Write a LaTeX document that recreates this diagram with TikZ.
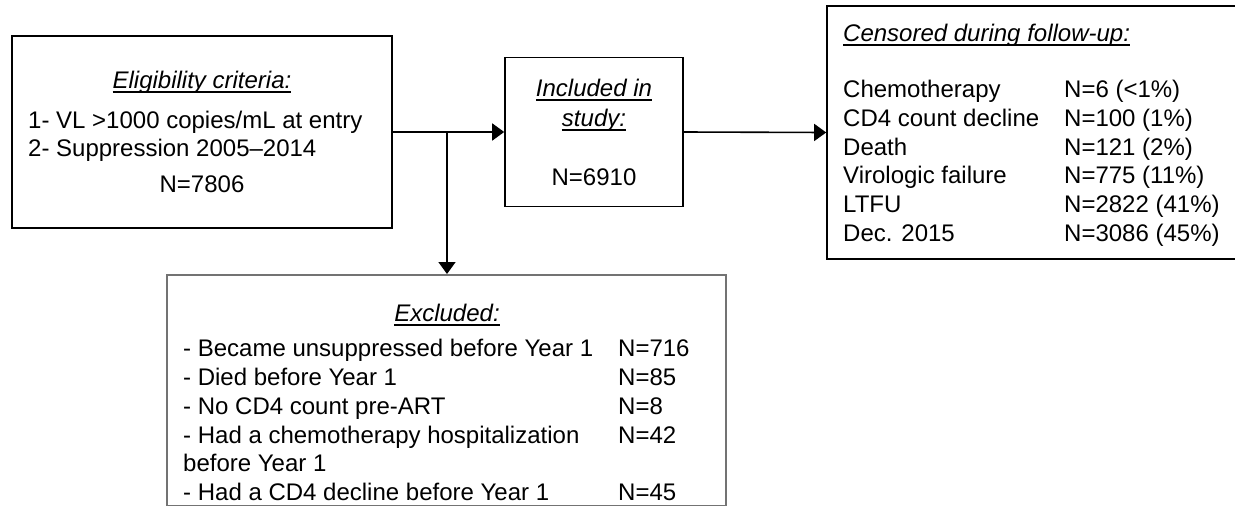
\documentclass[tikz,border=0pt]{standalone}
\usepackage{fontspec}
\setmainfont{Liberation Sans}
\usetikzlibrary{arrows.meta}
\newcommand{\myul}[1]{\setbox0\hbox{#1}\rlap{\rule[-4pt]{\wd0}{1.4pt}}\box0}
\tikzset{
  box/.style={draw, line width=1.6pt, inner sep=0pt, fill=none},
  ebox/.style={draw=black!55, line width=1.5pt, inner sep=0pt},
  arr/.style={line width=1.6pt, -{Triangle[length=12pt,width=17pt]}},
  big/.style={inner sep=0pt, text height=17.2pt, text depth=0pt, font=\fontsize{24}{28}\selectfont},
}
\begin{document}
\begin{tikzpicture}[x=1pt,y=-1pt]
\clip (0,0) rectangle (1235,506);
\fill[white] (0,0) rectangle (1235,506);
% boxes
\node[box, minimum width=380pt, minimum height=192pt] (b1) at (202,132) {};
\node[box, minimum width=178pt, minimum height=149pt] (b2) at (594,132) {};
\node[box, minimum width=418pt, minimum height=253pt] (b3) at (1036,132.5) {};
\node[ebox, minimum width=559pt, minimum height=231pt, anchor=north] (b4) at (446.5,274) {};
% box 1 text
\node[big] (t1) at (202,80) {\itshape\myul{Eligibility criteria:}};
\node[big, anchor=west] (t2) at (28,120) {1- VL >1000 copies/mL at entry};
\node[big, anchor=west] (t3) at (28,148) {2- Suppression 2005--2014};
\node[big] (t4) at (202,184) {N=7806};
% box 2 text
\node[big] (u1) at (594,88) {\itshape\myul{Included in}};
\node[big] (u2) at (594,118) {\itshape\myul{study:}};
\node[big] (u3) at (594,177) {N=6910};
% censored text
\node[big, anchor=west] (c0) at (843,33) {\itshape\myul{Censored during follow-up:}};
\foreach \i/\a/\b in {0/Chemotherapy/{N=6 (<1\%)},1/CD4 count decline/{N=100 (1\%)},2/Death/{N=121 (2\%)},3/Virologic failure/{N=775 (11\%)},4/LTFU/{N=2822 (41\%)},5/Dec. 2015/{N=3086 (45\%)}}{
  \node[big, anchor=west] (ca\i) at (843,{89+28.7*\i}) {\a};
  \node[big, anchor=west] (cb\i) at (1064,{89+28.7*\i}) {\b};
}
% excluded text
\node[big] (e0) at (447,313) {\itshape\myul{Excluded:}};
\foreach \i/\a/\b in {0/- Became unsuppressed before Year 1/N=716,1/- Died before Year 1/N=85,2/- No CD4 count pre-ART/N=8,3/- Had a chemotherapy hospitalization/N=42,4/before Year 1/,5/- Had a CD4 decline before Year 1/N=45}{
  \node[big, anchor=west] (ea\i) at (183,{348+28.8*\i}) {\a};
  \node[big, anchor=west] (eb\i) at (618,{348+28.8*\i}) {\b};
}
% connectors
\coordinate (br) at (447,132);
\draw[arr] (b1.east) -- (b2.west);
\draw[arr] (br) -- (br |- b4.north);
\draw[arr] (b2.east) -- (b3.west);
\end{tikzpicture}
\end{document}
